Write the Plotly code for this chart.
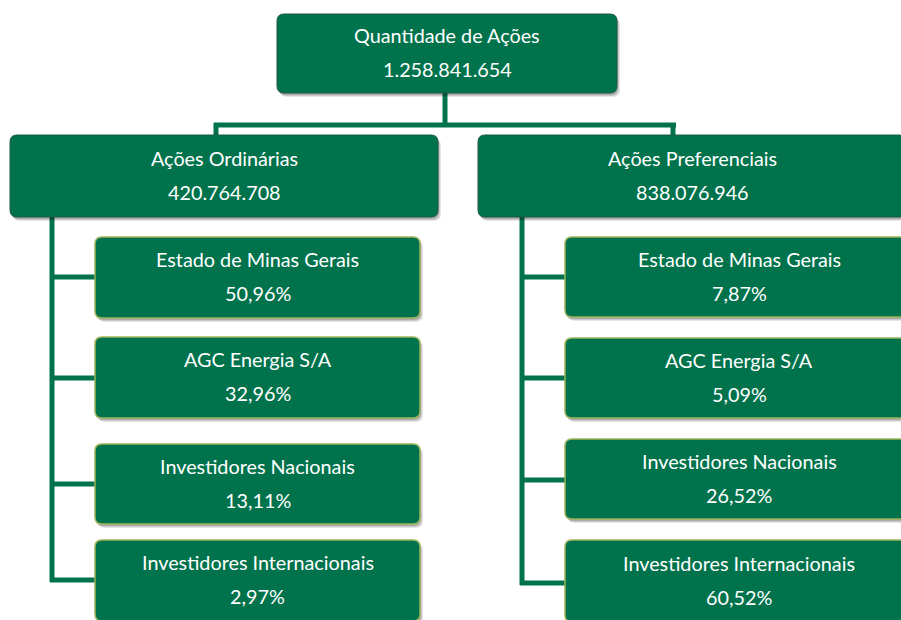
import plotly.graph_objects as go

# ---- data ----
root_label = "Quantidade de Ações"
root_value = "1.258.841.654"
class_labels = ["Ações Ordinárias", "Ações Preferenciais"]
class_values = ["420.764.708", "838.076.946"]
holder_labels = ["Estado de Minas Gerais", "AGC Energia S/A",
                 "Investidores Nacionais", "Investidores Internacionais"]
ordinarias_pct = ["50,96%", "32,96%", "13,11%", "2,97%"]
preferenciais_pct = ["7,87%", "5,09%", "26,52%", "60,52%"]

# ---- layout geometry (pixels) ----
W, H = 901, 620
GREEN = "#00734c"
BORDER_CHILD = "#9db35c"
FONT = "Lato"
FS = 19.8

shapes = []
annotations = []


def rrect(x0, y0, x1, y1, r=7):
    return (f"M {x0+r},{y0} L {x1-r},{y0} Q {x1},{y0} {x1},{y0+r} "
            f"L {x1},{y1-r} Q {x1},{y1} {x1-r},{y1} L {x0+r},{y1} "
            f"Q {x0},{y1} {x0},{y1-r} L {x0},{y0+r} Q {x0},{y0} {x0+r},{y0} Z")


def box(x0, y0, x1, y1, l1, l2, child=False):
    # shadow
    for k, op in [(4, 0.10), (3, 0.12), (2, 0.15)]:
        shapes.append(dict(type="path", path=rrect(x0 + k - 1, y0 + k, x1 + k - 1, y1 + k),
                           fillcolor=f"rgba(0,0,0,{op})", line=dict(width=0), layer="below"))
    shapes.append(dict(type="path", path=rrect(x0, y0, x1, y1),
                       fillcolor=GREEN,
                       line=dict(color=BORDER_CHILD if child else "#1f5a40", width=1.5 if child else 1),
                       layer="above"))
    cx = (x0 + x1) / 2
    cy = (y0 + y1) / 2
    for txt, dy in [(l1, -18.5), (l2, 15.5)]:
        annotations.append(dict(x=cx, y=cy + dy, text=txt, showarrow=False,
                                xref="x", yref="y", xanchor="center", yanchor="middle",
                                font=dict(family=FONT, size=FS, color="white")))


def line(x0, y0, x1, y1):
    shapes.append(dict(type="line", x0=x0, y0=y0, x1=x1, y1=y1,
                       line=dict(color=GREEN, width=5), layer="below"))


# connectors
line(445, 93, 445, 127)
line(214, 125, 676, 125)
line(216, 123, 216, 137)
line(673, 123, 673, 137)

left_conn_y = [277, 378, 484, 580]
right_conn_y = [277, 378, 480, 583]
line(52, 215, 52, left_conn_y[-1] + 2)
for yy in left_conn_y:
    line(50, yy, 97, yy)
line(522, 215, 522, right_conn_y[-1] + 2)
for yy in right_conn_y:
    line(520, yy, 567, yy)

# boxes
box(277, 14, 617, 93, root_label, root_value)
box(10, 135, 438, 217, class_labels[0], class_values[0])
box(478, 135, 906, 217, class_labels[1], class_values[1])

left_boxes_y = [(237, 318), (337, 418), (444, 524), (540, 621)]
right_boxes_y = [(237, 317), (338, 418), (439, 519), (540, 622)]
for (y0, y1), lab, pct in zip(left_boxes_y, holder_labels, ordinarias_pct):
    box(95, y0, 420, y1, lab, pct, child=True)
for (y0, y1), lab, pct in zip(right_boxes_y, holder_labels, preferenciais_pct):
    box(565, y0, 913, y1, lab, pct, child=True)

fig = go.Figure()
fig.update_layout(
    width=W, height=H,
    margin=dict(l=0, r=0, t=0, b=0),
    paper_bgcolor="white", plot_bgcolor="white",
    xaxis=dict(range=[0, W], visible=False, fixedrange=True),
    yaxis=dict(range=[H, 0], visible=False, fixedrange=True),
    shapes=shapes, annotations=annotations, showlegend=False,
)
fig.write_html("out.html", config={"displayModeBar": False},
               post_script="document.body.style.margin='0';document.body.style.overflow='hidden';")
